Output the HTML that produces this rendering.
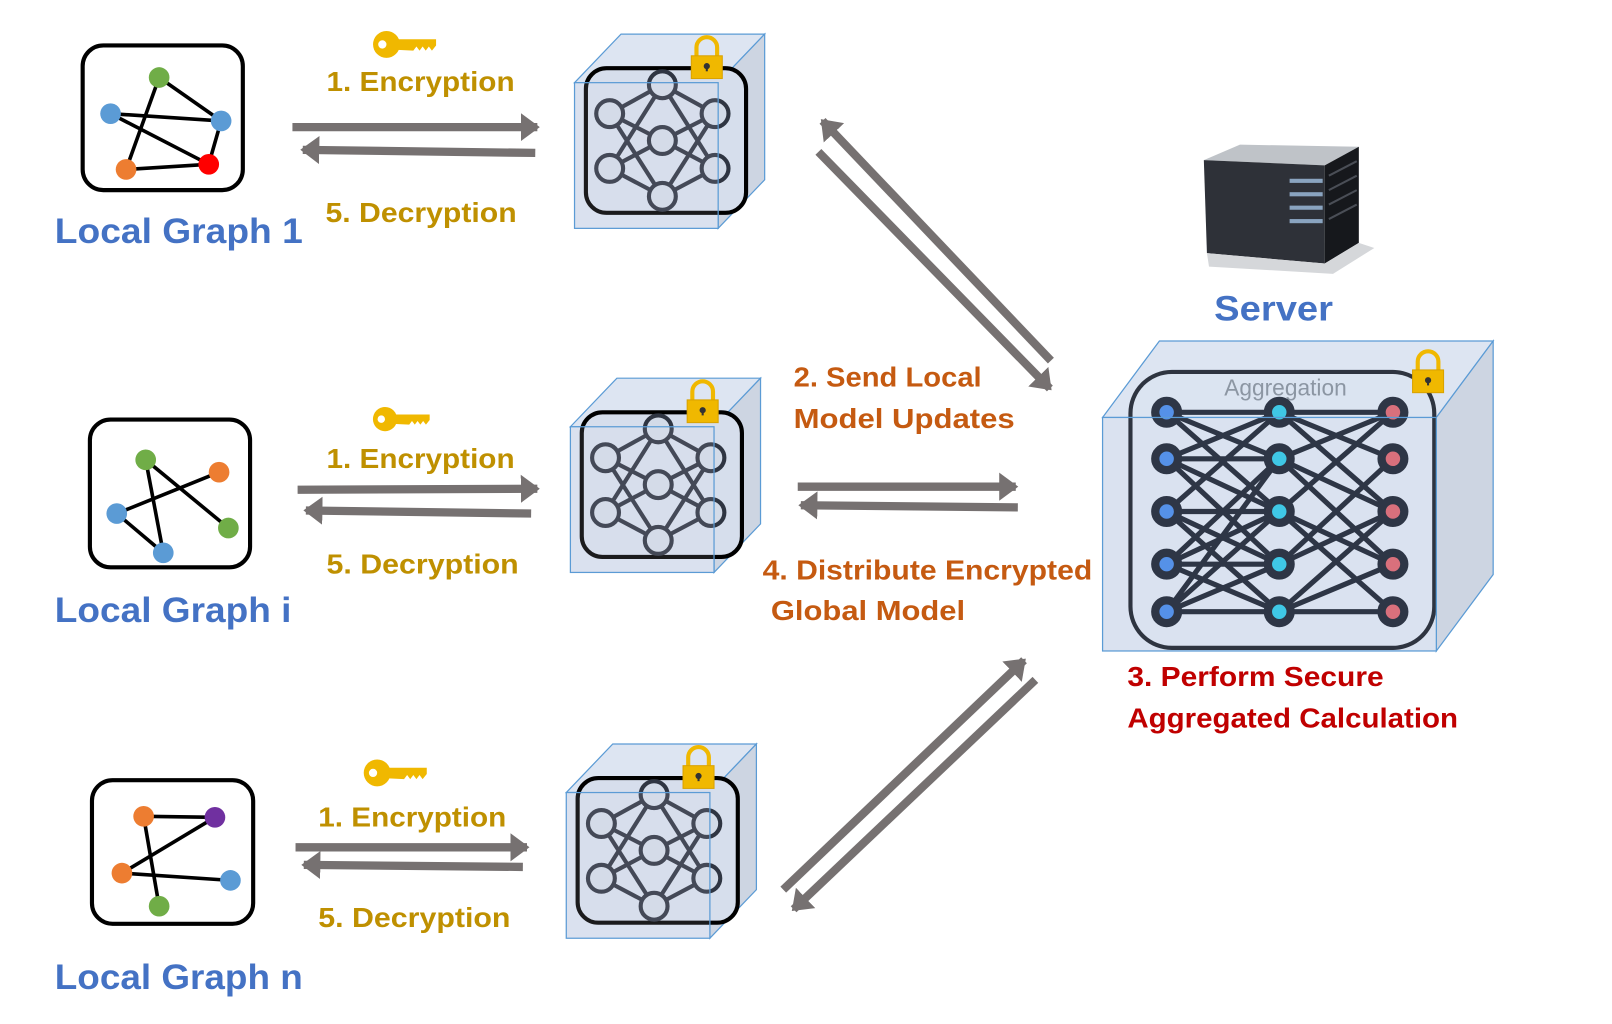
<!DOCTYPE html>
<html><head><meta charset="utf-8"><style>
html,body{margin:0;padding:0;background:#fff;width:1612px;height:1024px;overflow:hidden}
svg{display:block}
text{font-family:"Liberation Sans",sans-serif;font-weight:bold}
</style></head><body>
<svg width="1612" height="1024" viewBox="0 0 1560 991" preserveAspectRatio="none" xmlns="http://www.w3.org/2000/svg">
<defs>
<marker id="ah" markerWidth="4" markerHeight="4" refX="2" refY="2" orient="auto" markerUnits="strokeWidth">
<path d="M0,0.3 L2.3,2 L0,3.7 z" fill="#767171"/></marker>
<g id="key" fill="#F0B800">
<circle cx="14" cy="14" r="13"/>
<path d="M20,9 L62,9 L62,15 L58,20 L55,16 L52,20 L49,16 L46,20 L43,16 L40,20 L20,19 z"/>
<circle cx="10" cy="14" r="4" fill="#fff"/>
</g>
<g id="lock">
<path d="M-10,-4 V-12 A10,10 0 0 1 10,-12 V-4" fill="none" stroke="#F0B800" stroke-width="4"/>
<rect x="-15" y="-4" width="30" height="22" fill="#F0B800" stroke="#D9A200" stroke-width="1"/>
<circle cx="0" cy="6" r="3" fill="#333"/><rect x="-1" y="6" width="2" height="5" fill="#333"/>
</g>
<g id="net" fill="none" stroke="#2f3542" stroke-width="4">
<path d="M0,-54 L-51,-26 M0,-54 L51,-26 M0,-54 L-51,27 M0,-54 L51,27 M0,54 L-51,27 M0,54 L51,27 M0,54 L-51,-26 M0,54 L51,-26 M-51,-26 L0,0 M51,-26 L0,0 M-51,27 L0,0 M51,27 L0,0"/>
<g fill="#d3dbe8">
<circle cx="0" cy="-54" r="13"/><circle cx="-51" cy="-26" r="13"/><circle cx="51" cy="-26" r="13"/>
<circle cx="0" cy="0" r="13"/><circle cx="-51" cy="27" r="13"/><circle cx="51" cy="27" r="13"/><circle cx="0" cy="54" r="13"/>
</g></g>
<g id="cube">
<polygon points="0,0 45,-47 184,-47 139,0" fill="#DDE5F2" stroke="#5B9BD5" stroke-width="1.2"/>
<polygon points="139,0 184,-47 184,94 139,141" fill="#CDD5E2" stroke="#5B9BD5" stroke-width="1.2"/>
<rect x="0" y="0" width="139" height="141" fill="#DAE2F0"/>
<rect x="11" y="-14" width="155" height="140" rx="20" fill="#D6DEEC" stroke="#000" stroke-width="4"/>
<use href="#net" x="85" y="56"/>
<rect x="0" y="0" width="139" height="141" fill="#DAE2F0" fill-opacity="0.12" stroke="#5B9BD5" stroke-width="1.2"/>
<use href="#lock" x="128" y="-22"/>
</g>
</defs>

<!-- Row 1 -->
<rect x="80" y="44" width="155" height="140" rx="20" fill="#fff" stroke="#000" stroke-width="4"/>
<g stroke="#000" stroke-width="3.5">
<line x1="154" y1="75" x2="122" y2="164"/><line x1="154" y1="75" x2="214" y2="117"/>
<line x1="107" y1="110" x2="214" y2="117"/><line x1="107" y1="110" x2="202" y2="159"/>
<line x1="214" y1="117" x2="202" y2="159"/><line x1="122" y1="164" x2="202" y2="159"/></g>
<circle cx="154" cy="75" r="10" fill="#70AD47"/><circle cx="107" cy="110" r="10" fill="#5B9BD5"/>
<circle cx="214" cy="117" r="10" fill="#5B9BD5"/><circle cx="122" cy="164" r="10" fill="#ED7D31"/>
<circle cx="202" cy="159" r="10" fill="#FF0000"/>
<text x="53" y="235" font-size="34" fill="#4472C4" textLength="240" lengthAdjust="spacingAndGlyphs">Local Graph 1</text>
<use href="#key" x="360" y="29"/>
<text x="316" y="88" font-size="27" fill="#BF9000" textLength="182" lengthAdjust="spacingAndGlyphs">1. Encryption</text>
<text x="315" y="215" font-size="27" fill="#BF9000" textLength="185" lengthAdjust="spacingAndGlyphs">5. Decryption</text>
<line x1="283" y1="123" x2="520" y2="123" stroke="#767171" stroke-width="8" marker-end="url(#ah)"/>
<line x1="518" y1="148" x2="293" y2="145" stroke="#767171" stroke-width="8" marker-end="url(#ah)"/>
<use href="#cube" x="556" y="80"/>

<!-- Row 2 -->
<rect x="87" y="406" width="155" height="143" rx="20" fill="#fff" stroke="#000" stroke-width="4"/>
<g stroke="#000" stroke-width="3.5">
<line x1="141" y1="445" x2="221" y2="511"/><line x1="141" y1="445" x2="158" y2="535"/>
<line x1="212" y1="457" x2="113" y2="497"/><line x1="113" y1="497" x2="158" y2="535"/></g>
<circle cx="141" cy="445" r="10" fill="#70AD47"/><circle cx="212" cy="457" r="10" fill="#ED7D31"/>
<circle cx="113" cy="497" r="10" fill="#5B9BD5"/><circle cx="221" cy="511" r="10" fill="#70AD47"/>
<circle cx="158" cy="535" r="10" fill="#5B9BD5"/>
<text x="53" y="602" font-size="34" fill="#4472C4" textLength="229" lengthAdjust="spacingAndGlyphs">Local Graph i</text>
<use href="#key" x="360" y="393" transform="translate(36 39.3) scale(0.9)"/>
<text x="316" y="453" font-size="27" fill="#BF9000" textLength="182" lengthAdjust="spacingAndGlyphs">1. Encryption</text>
<text x="316" y="555" font-size="27" fill="#BF9000" textLength="186" lengthAdjust="spacingAndGlyphs">5. Decryption</text>
<line x1="288" y1="474" x2="520" y2="473" stroke="#767171" stroke-width="8" marker-end="url(#ah)"/>
<line x1="514" y1="497" x2="296" y2="494" stroke="#767171" stroke-width="8" marker-end="url(#ah)"/>
<use href="#cube" x="552" y="413"/>

<!-- Row 3 -->
<rect x="89" y="755" width="156" height="139" rx="20" fill="#fff" stroke="#000" stroke-width="4"/>
<g stroke="#000" stroke-width="3.5">
<line x1="139" y1="790" x2="208" y2="791"/><line x1="208" y1="791" x2="118" y2="845"/>
<line x1="139" y1="790" x2="154" y2="877"/><line x1="118" y1="845" x2="223" y2="852"/></g>
<circle cx="139" cy="790" r="10" fill="#ED7D31"/><circle cx="208" cy="791" r="10" fill="#7030A0"/>
<circle cx="118" cy="845" r="10" fill="#ED7D31"/><circle cx="223" cy="852" r="10" fill="#5B9BD5"/>
<circle cx="154" cy="877" r="10" fill="#70AD47"/>
<text x="53" y="957" font-size="34" fill="#4472C4" textLength="240" lengthAdjust="spacingAndGlyphs">Local Graph n</text>
<use href="#key" x="351" y="734"/>
<text x="308" y="800" font-size="27" fill="#BF9000" textLength="182" lengthAdjust="spacingAndGlyphs">1. Encryption</text>
<text x="308" y="897" font-size="27" fill="#BF9000" textLength="186" lengthAdjust="spacingAndGlyphs">5. Decryption</text>
<line x1="286" y1="820" x2="510" y2="820" stroke="#767171" stroke-width="8" marker-end="url(#ah)"/>
<line x1="506" y1="839" x2="294" y2="837" stroke="#767171" stroke-width="8" marker-end="url(#ah)"/>
<use href="#cube" x="548" y="767"/>

<!-- Diagonals -->
<line x1="1017" y1="349" x2="796" y2="117" stroke="#767171" stroke-width="8" marker-end="url(#ah)"/>
<line x1="792" y1="147" x2="1016" y2="376" stroke="#767171" stroke-width="8" marker-end="url(#ah)"/>
<line x1="772" y1="471" x2="983" y2="471" stroke="#767171" stroke-width="8" marker-end="url(#ah)"/>
<line x1="985" y1="491" x2="775" y2="489" stroke="#767171" stroke-width="8" marker-end="url(#ah)"/>
<line x1="758" y1="861" x2="991" y2="639" stroke="#767171" stroke-width="8" marker-end="url(#ah)"/>
<line x1="1002" y1="658" x2="768" y2="880" stroke="#767171" stroke-width="8" marker-end="url(#ah)"/>

<text x="768" y="374" font-size="27" fill="#C55A11" textLength="182" lengthAdjust="spacingAndGlyphs">2. Send Local</text>
<text x="768" y="414" font-size="27" fill="#C55A11" textLength="214" lengthAdjust="spacingAndGlyphs">Model Updates</text>
<text x="738" y="561" font-size="27" fill="#C55A11" textLength="319" lengthAdjust="spacingAndGlyphs">4. Distribute Encrypted</text>
<text x="746" y="600" font-size="27" fill="#C55A11" textLength="188" lengthAdjust="spacingAndGlyphs">Global Model</text>

<!-- Server -->
<polygon points="1165,155 1200,140 1315,142 1282,160" fill="#bfc3c8"/>
<polygon points="1165,155 1282,160 1282,255 1168,245" fill="#2e3138"/>
<polygon points="1282,160 1315,142 1315,235 1282,255" fill="#16181c"/>
<polygon points="1168,245 1282,255 1315,235 1330,240 1290,265 1170,258" fill="#d5d7da"/>
<g fill="#8aa4c0"><rect x="1248" y="173" width="32" height="4"/><rect x="1248" y="186" width="32" height="4"/><rect x="1248" y="199" width="32" height="4"/><rect x="1248" y="212" width="32" height="4"/></g>
<g stroke="#4a4e56" stroke-width="2"><line x1="1286" y1="170" x2="1313" y2="156"/><line x1="1286" y1="184" x2="1313" y2="170"/><line x1="1286" y1="198" x2="1313" y2="184"/><line x1="1286" y1="212" x2="1313" y2="198"/></g>
<text x="1175" y="310" font-size="34" fill="#4472C4" textLength="115" lengthAdjust="spacingAndGlyphs">Server</text>

<!-- Big cube -->
<polygon points="1067,404 1122,330 1445,330 1390,404" fill="#DDE5F2" stroke="#5B9BD5" stroke-width="1.2"/>
<polygon points="1390,404 1445,330 1445,556 1390,630" fill="#CDD5E2" stroke="#5B9BD5" stroke-width="1.2"/>
<rect x="1067" y="404" width="323" height="226" fill="#DAE2F0"/>
<rect x="1094" y="360" width="294" height="267" rx="40" fill="#DBE3F0" fill-opacity="0.6" stroke="#2e3440" stroke-width="4"/>
<text x="1244" y="383" font-size="22" fill="#8C96A3" text-anchor="middle" style="font-weight:normal">Aggregation</text>
<g stroke="#2e3646" stroke-width="5">
<path d="M1129,399 L1348,399 M1129,495 L1238,495 M1129,444 L1238,444 M1129,546 L1238,546 M1129,592 L1348,592
M1129,399 L1238,444 M1129,399 L1238,495 M1129,444 L1238,399 M1129,444 L1238,495 M1129,444 L1238,546
M1129,495 L1238,399 M1129,495 L1238,546 M1129,495 L1238,592 M1129,546 L1238,444 M1129,546 L1238,495 M1129,546 L1238,592
M1129,592 L1238,495 M1129,592 L1238,546 M1129,592 L1238,444
M1238,399 L1348,444 M1238,399 L1348,495 M1238,444 L1348,399 M1238,444 L1348,546 M1238,495 L1348,399 M1238,495 L1348,592
M1238,546 L1348,495 M1238,546 L1348,444 M1238,592 L1348,546 M1238,592 L1348,495 M1238,495 L1348,546 M1238,444 L1348,495"/></g>
<g stroke="#2e3646" stroke-width="8">
<circle cx="1129" cy="399" r="11" fill="#5591E8"/><circle cx="1129" cy="444" r="11" fill="#5591E8"/><circle cx="1129" cy="495" r="11" fill="#5591E8"/><circle cx="1129" cy="546" r="11" fill="#5591E8"/><circle cx="1129" cy="592" r="11" fill="#5591E8"/>
<circle cx="1238" cy="399" r="11" fill="#3FC8E6"/><circle cx="1238" cy="444" r="11" fill="#3FC8E6"/><circle cx="1238" cy="495" r="11" fill="#3FC8E6"/><circle cx="1238" cy="546" r="11" fill="#3FC8E6"/><circle cx="1238" cy="592" r="11" fill="#3FC8E6"/>
<circle cx="1348" cy="399" r="11" fill="#D9707C"/><circle cx="1348" cy="444" r="11" fill="#D9707C"/><circle cx="1348" cy="495" r="11" fill="#D9707C"/><circle cx="1348" cy="546" r="11" fill="#D9707C"/><circle cx="1348" cy="592" r="11" fill="#D9707C"/>
</g>
<rect x="1067" y="404" width="323" height="226" fill="none" stroke="#5B9BD5" stroke-width="1.2"/>
<use href="#lock" x="1382" y="362"/>
<text x="1091" y="664" font-size="27" fill="#C00000" textLength="248" lengthAdjust="spacingAndGlyphs">3. Perform Secure</text>
<text x="1091" y="704" font-size="27" fill="#C00000" textLength="320" lengthAdjust="spacingAndGlyphs">Aggregated Calculation</text>
</svg>
</body></html>
